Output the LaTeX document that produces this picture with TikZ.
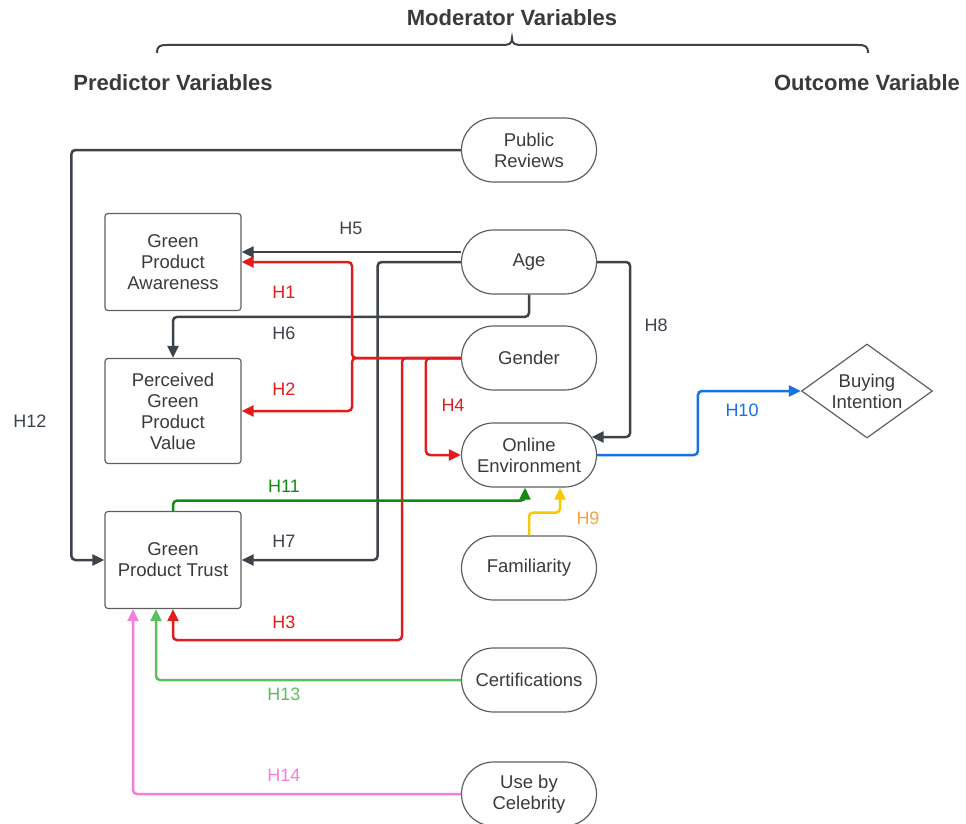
\documentclass[tikz,border=0pt]{standalone}
\usepackage{fontspec}
\setmainfont{Liberation Sans}
\usetikzlibrary{arrows.meta,calc,shapes.geometric}
\definecolor{txt}{HTML}{3A3A3A}
\definecolor{bord}{HTML}{5F5F5F}
\definecolor{dk}{HTML}{3D434B}
\definecolor{rd}{HTML}{E21B1B}
\definecolor{gn}{HTML}{128A12}
\definecolor{lg}{HTML}{5CBF5C}
\definecolor{pk}{HTML}{F47FDA}
\definecolor{bl}{HTML}{1572E3}
\definecolor{yl}{HTML}{F7C800}
\definecolor{og}{HTML}{F2A33A}
\begin{document}
\begin{tikzpicture}[x=1pt,y=-1pt,
  every node/.style={text=txt},
  pill/.style={draw=bord, line width=1.2pt, rounded corners=32pt, minimum width=135pt, minimum height=64pt, inner sep=0pt, align=center, font=\fontsize{18.5}{21}\selectfont},
  box/.style={draw=bord, line width=1.2pt, rounded corners=3pt, minimum width=136pt, inner sep=0pt, align=center, font=\fontsize{18.5}{21}\selectfont},
  conn/.style={line width=2.5pt, rounded corners=4pt, -{Triangle[length=12pt,width=11pt]}},
  lab/.style={font=\fontsize{18}{21}\selectfont},
  head/.style={font=\bfseries\fontsize{22}{25}\selectfont}]
\useasboundingbox (0,0) rectangle (966,824);

% headings
\node[head] (mod) at (512,18) {Moderator Variables};
\node[head] (pred) at (173,83) {Predictor Variables};
\node[head] (outv) at (867,83) {Outcome Variable};
\draw[dk, line width=2pt] (157,53) .. controls (157,46) and (160,45) .. (167,45) -- (502,45) .. controls (509,45) and (512,44) .. (512,38) .. controls (512,44) and (515,45) .. (522,45) -- (858,45) .. controls (865,45) and (868,46) .. (868,53);

% nodes
\node[pill] (pr) at (529,150) {Public\\Reviews};
\node[pill] (age) at (529,262) {Age};
\node[pill] (gen) at (529,358) {Gender};
\node[pill] (oe) at (529,455) {Online\\Environment};
\node[pill] (fam) at (529,568) {Familiarity};
\node[pill] (cert) at (529,680) {Certifications};
\node[pill] (cel) at (529,794) {Use by\\Celebrity};
\node[box, minimum height=97pt] (gpa) at (173,262) {Green\\Product\\Awareness};
\node[box, minimum height=105pt] (pgv) at (173,411) {Perceived\\Green\\Product\\Value};
\node[box, minimum height=97pt] (gpt) at (173,560) {Green\\Product Trust};
\node[diamond, draw=bord, line width=1.2pt, minimum width=131pt, minimum height=94pt, inner sep=0pt, aspect=1.4, align=center, font=\fontsize{18.5}{21}\selectfont] (bi) at (867,391) {Buying\\Intention};

% connectors
\coordinate (rj) at (352,358);
\draw[conn,dk] (pr.west) -| ($(gpt.west)+(-33,0)$) -- (gpt.west);
\draw[conn,dk] ($(age.west)+(0,-10)$) -- ($(gpa.east)+(0,-10)$);
\draw[conn,dk] (age.west) -| ($(gpt.east)+(136,0)$) -- (gpt.east);
\draw[conn,dk] (age.south) |- ($(pgv.north)+(0,-41)$) -- (pgv.north);
\draw[conn,dk] (age.east) -| ($(oe.east)+(33,-18)$) -- ($(oe.east)+(-5.5,-18)$);
\draw[conn,rd] (gen.west) -- (rj) |- (gpa.east);
\draw[conn,rd] (gen.west) -- (rj) |- (pgv.east);
\draw[conn,rd] (gen.west) -| ($(gpt.south)+(229,31)$) -| (gpt.south);
\draw[conn,rd] (gen.west) -| ($(oe.west)+(-35,0)$) -- (oe.west);
\draw[conn,bl] (oe.east) -| ($(bi.west)+(-103,0)$) -- (bi.west);
\draw[conn,gn] (gpt.north) |- ($(oe.south)+(-4,13)$) -- ($(oe.south)+(-4,0)$);
\draw[conn,yl] (fam.north) |- ($(oe.south)+(31,25)$) -- ($(oe.south)+(31,0)$);
\draw[conn,lg] (cert.west) -| ($(gpt.south)+(-17,0)$);
\draw[conn,pk] (cel.west) -| ($(gpt.south)+(-40,0)$);

% labels
\node[lab, text=dk] (h5) at (351,228) {H5};
\node[lab, text=rd] (h1) at (284,292) {H1};
\node[lab, text=dk] (h6) at (284,333) {H6};
\node[lab, text=rd] (h2) at (284,389) {H2};
\node[lab, text=rd] (h4) at (453,405) {H4};
\node[lab, text=dk] (h8) at (656,325) {H8};
\node[lab, text=bl] (h10) at (742,410) {H10};
\node[lab, text=gn] (h11) at (284,486) {H11};
\node[lab, text=og] (h9) at (588,518) {H9};
\node[lab, text=dk] (h7) at (284,541) {H7};
\node[lab, text=rd] (h3) at (284,622) {H3};
\node[lab, text=lg] (h13) at (284,694) {H13};
\node[lab, text=pk] (h14) at (284,775) {H14};
\node[lab, text=dk] (h12) at (30,421) {H12};
\end{tikzpicture}
\end{document}
